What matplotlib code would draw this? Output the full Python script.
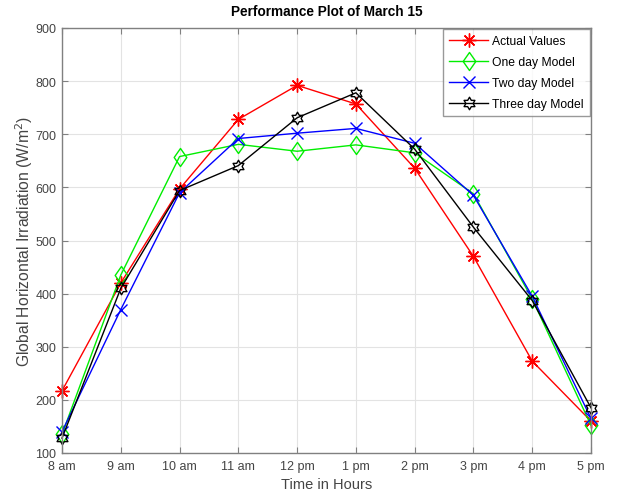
import matplotlib
matplotlib.use("Agg")
import matplotlib.pyplot as plt
import numpy as np
from matplotlib.path import Path

plt.rcParams['font.family'] = ['Liberation Sans', 'DejaVu Sans']

hours = ["8 am", "9 am", "10 am", "11 am", "12 pm", "1 pm", "2 pm", "3 pm", "4 pm", "5 pm"]
actual = [217, 420, 597, 728, 792, 757, 636, 470, 273, 160]
one_day = [135, 435, 658, 681, 668, 680, 665, 588, 390, 152]
two_day = [140, 370, 590, 692, 702, 711, 683, 585, 395, 165]
three_day = [128, 410, 594, 641, 731, 778, 672, 525, 387, 185]

# hexagram marker
pts = []
for k in range(12):
    a = np.deg2rad(90 + 30 * k)
    r = 1.0 if k % 2 == 0 else 0.58
    pts.append((r * np.cos(a), r * np.sin(a)))
pts.append(pts[0])
hexagram = Path(pts, closed=True)
# wide diamond marker
diamond = Path([(0, 1), (0.7, 0), (0, -1), (-0.7, 0), (0, 1)], closed=True)

fig = plt.figure(figsize=(6.18, 5.02), dpi=100)
ax = fig.add_axes([62/618, 1-454/502, (591-62)/618, (454-29)/502])
x = np.arange(len(hours))
ax.plot(x, actual, color='red', marker=(8, 2, 0), markersize=10, mew=1.0, lw=1.0,
        label='Actual Values', clip_on=False)
ax.plot(x, one_day, color='#00ee00', marker=diamond, markersize=13, mfc='none', mew=1.0, lw=1.0,
        label='One day Model', clip_on=False)
ax.plot(x, two_day, color='blue', marker='x', markersize=9, mew=1.0, lw=1.0,
        label='Two day Model', clip_on=False)
ax.plot(x, three_day, color='black', marker=hexagram, markersize=9, mfc='none', mew=1.0, lw=1.0,
        label='Three day Model', clip_on=False)

ax.set_xlim(0, len(hours) - 1)
ax.set_ylim(100, 900)
ax.set_xticks(x)
ax.set_xticklabels(hours)
ax.set_yticks(np.arange(100, 901, 100))
ax.grid(True, color='#e3e3e3', lw=0.8)
ax.set_axisbelow(True)
for s in ax.spines.values():
    s.set_color('#808080')
    s.set_linewidth(1.0)
ax.tick_params(colors='#808080', labelcolor='#444444', labelsize=9, direction='in', length=4,
               top=True, right=True)
ax.tick_params(axis='x', pad=5)
ax.tick_params(axis='y', pad=4)
ax.set_title('Performance Plot of March 15', fontsize=9.8, fontweight='bold', pad=9)
ax.set_xlabel('Time in Hours', fontsize=10.5, color='#444444', labelpad=4)
ax.set_ylabel('Global Horizontal Irradiation (W/m$^2$)', fontsize=11.3, color='#444444', labelpad=0)
leg = ax.legend(loc='upper right', fontsize=8.7, frameon=True, fancybox=False,
                edgecolor='#808080', borderaxespad=0.1, handlelength=3.2, handletextpad=0.35,
                labelspacing=0.75, borderpad=0.5)
leg.get_frame().set_linewidth(1.0)
fig.savefig('out.png', dpi=100)
